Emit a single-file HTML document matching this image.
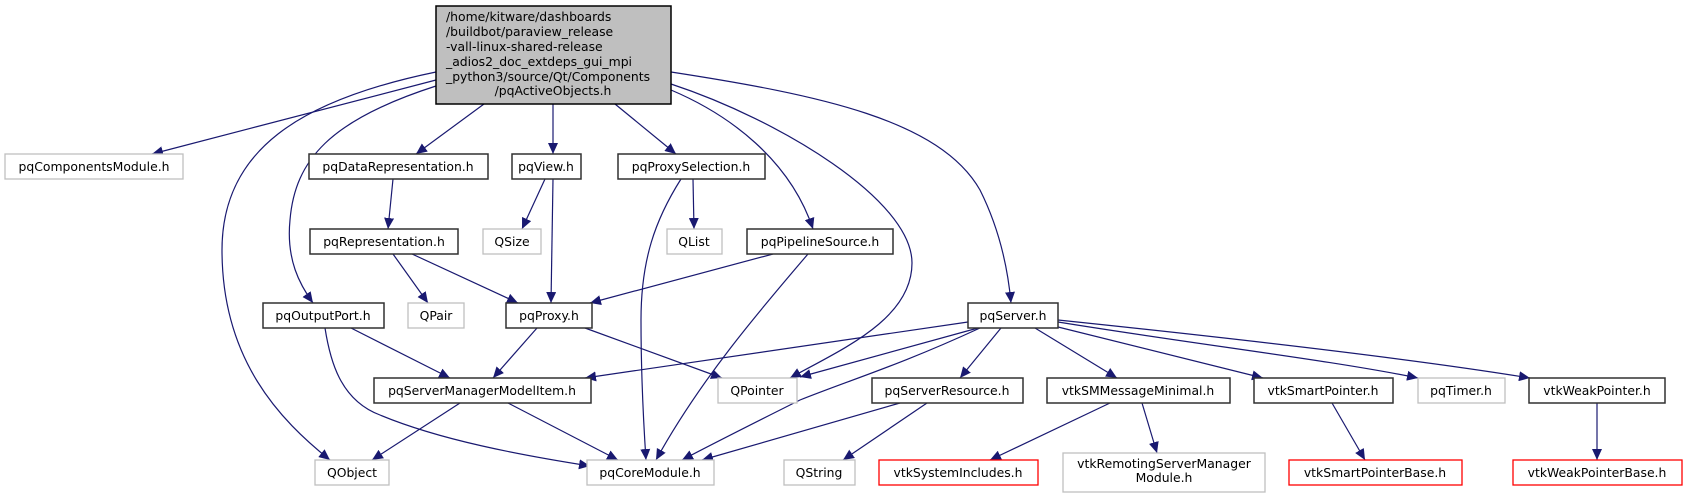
<!DOCTYPE html>
<html><head><meta charset="utf-8"><style>
html,body{margin:0;padding:0;background:#fff;}
svg{display:block;}
text{font-family:"DejaVu Sans","Liberation Sans",sans-serif;font-size:12.4px;fill:#000;}
.b{fill:#fff;stroke:#303030;stroke-width:1.5}
.g{fill:#fff;stroke:#bfbfbf;stroke-width:1.3}
.r{fill:#fff;stroke:#ff0000;stroke-width:1.3}
path.e{fill:none;stroke:#191970;stroke-width:1.2;marker-end:url(#a)}
</style></head><body>
<svg width="1687" height="499" viewBox="0 0 1687 499" xmlns="http://www.w3.org/2000/svg">
<defs><marker id="a" markerUnits="userSpaceOnUse" markerWidth="12" markerHeight="10" refX="11" refY="5" orient="auto"><path d="M0,0 L11,5 L0,10 z" fill="#191970"/></marker></defs>
<path class="e" d="M436,80 L152,154"/>
<path class="e" d="M436,72 C300,100 222,150 222,250 C222,360 280,420 330,460"/>
<path class="e" d="M436,86 C330,120 295,160 290,220 C286,260 300,285 313,303"/>
<path class="e" d="M484,104 L416,154"/>
<path class="e" d="M553,104 L553,154"/>
<path class="e" d="M615,104 L676,154"/>
<path class="e" d="M671,90 C730,115 790,160 813,229"/>
<path class="e" d="M671,84 C780,120 912,200 912,263 C912,320 840,350 790,378"/>
<path class="e" d="M671,72 C820,95 940,120 980,190 C1000,230 1008,270 1011,303"/>
<path class="e" d="M393,179 L388,229"/>
<path class="e" d="M545,179 L522,229"/>
<path class="e" d="M553,179 L551,303"/>
<path class="e" d="M693,179 L694,229"/>
<path class="e" d="M681,179 C655,220 641,260 641,320 C641,380 644,430 646,460"/>
<path class="e" d="M393,254 L428,303"/>
<path class="e" d="M412,254 L518,303"/>
<path class="e" d="M773,254 L590,303"/>
<path class="e" d="M808,254 C760,310 700,380 656,460"/>
<path class="e" d="M351,328 L450,378"/>
<path class="e" d="M325,328 C330,360 340,400 380,415 C440,440 520,455 590,466"/>
<path class="e" d="M537,328 L493,378"/>
<path class="e" d="M585,328 L722,378"/>
<path class="e" d="M460,403 L372,460"/>
<path class="e" d="M508,403 L618,460"/>
<path class="e" d="M968,322 L585,378"/>
<path class="e" d="M978,328 L800,377"/>
<path class="e" d="M980,328 C900,365 850,380 800,400 C760,420 720,440 682,460"/>
<path class="e" d="M1001,328 L960,378"/>
<path class="e" d="M1035,328 L1117,378"/>
<path class="e" d="M1058,327 L1263,378"/>
<path class="e" d="M1058,322 C1200,345 1330,360 1418,378"/>
<path class="e" d="M1058,320 C1250,340 1420,360 1530,378"/>
<path class="e" d="M900,403 L702,460"/>
<path class="e" d="M927,403 L843,460"/>
<path class="e" d="M1110,403 L990,460"/>
<path class="e" d="M1142,403 L1157,453"/>
<path class="e" d="M1332,403 L1365,460"/>
<path class="e" d="M1597,403 L1597,460"/>
<rect x="436" y="6" width="235" height="98" fill="#bfbfbf" stroke="#000" stroke-width="1.5"/>
<text x="446" y="21">/home/kitware/dashboards</text>
<text x="446" y="36">/buildbot/paraview_release</text>
<text x="446" y="51">-vall-linux-shared-release</text>
<text x="446" y="66">_adios2_doc_extdeps_gui_mpi</text>
<text x="446" y="81">_python3/source/Qt/Components</text>
<text x="553" y="95" text-anchor="middle">/pqActiveObjects.h</text>
<g text-anchor="middle">
<rect class="g" x="5" y="154" width="178" height="25"/><text x="94" y="171">pqComponentsModule.h</text>
<rect class="b" x="309" y="154" width="179" height="25"/><text x="398" y="171">pqDataRepresentation.h</text>
<rect class="b" x="512" y="154" width="69" height="25"/><text x="546" y="171">pqView.h</text>
<rect class="b" x="618" y="154" width="147" height="25"/><text x="691" y="171">pqProxySelection.h</text>
<rect class="b" x="310" y="229" width="148" height="25"/><text x="384" y="246">pqRepresentation.h</text>
<rect class="g" x="483" y="229" width="58" height="25"/><text x="512" y="246">QSize</text>
<rect class="g" x="667" y="229" width="55" height="25"/><text x="694" y="246">QList</text>
<rect class="b" x="747" y="229" width="146" height="25"/><text x="820" y="246">pqPipelineSource.h</text>
<rect class="b" x="263" y="303" width="121" height="25"/><text x="323" y="320">pqOutputPort.h</text>
<rect class="g" x="408" y="303" width="56" height="25"/><text x="436" y="320">QPair</text>
<rect class="b" x="506" y="303" width="86" height="25"/><text x="549" y="320">pqProxy.h</text>
<rect class="b" x="968" y="303" width="90" height="25"/><text x="1013" y="320">pqServer.h</text>
<rect class="b" x="374" y="378" width="217" height="25"/><text x="482" y="395">pqServerManagerModelItem.h</text>
<rect class="g" x="718" y="378" width="79" height="25"/><text x="757" y="395">QPointer</text>
<rect class="b" x="872" y="378" width="151" height="25"/><text x="947" y="395">pqServerResource.h</text>
<rect class="b" x="1047" y="378" width="183" height="25"/><text x="1138" y="395">vtkSMMessageMinimal.h</text>
<rect class="b" x="1254" y="378" width="139" height="25"/><text x="1323" y="395">vtkSmartPointer.h</text>
<rect class="g" x="1418" y="378" width="87" height="25"/><text x="1461" y="395">pqTimer.h</text>
<rect class="b" x="1529" y="378" width="136" height="25"/><text x="1597" y="395">vtkWeakPointer.h</text>
<rect class="g" x="315" y="460" width="74" height="25"/><text x="352" y="477">QObject</text>
<rect class="g" x="587" y="460" width="127" height="25"/><text x="650" y="477">pqCoreModule.h</text>
<rect class="g" x="784" y="460" width="71" height="25"/><text x="819" y="477">QString</text>
<rect class="r" x="879" y="460" width="159" height="25"/><text x="958" y="477">vtkSystemIncludes.h</text>
<rect class="g" x="1063" y="453" width="202" height="39"/><text x="1164" y="468">vtkRemotingServerManager</text><text x="1164" y="482">Module.h</text>
<rect class="r" x="1289" y="460" width="173" height="25"/><text x="1375" y="477">vtkSmartPointerBase.h</text>
<rect class="r" x="1513" y="460" width="169" height="25"/><text x="1597" y="477">vtkWeakPointerBase.h</text>
</g>
</svg>
</body></html>
